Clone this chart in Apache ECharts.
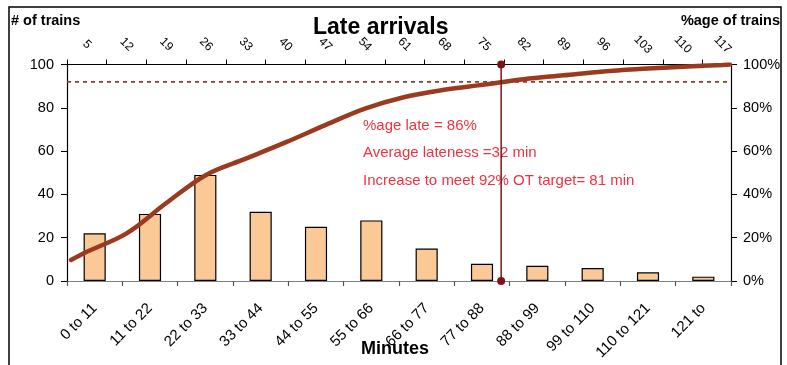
<!DOCTYPE html>
<html>
<head>
<meta charset="utf-8">
<script src="https://cdn.jsdelivr.net/npm/echarts@6/dist/echarts.min.js"></script>
<style>
html,body{margin:0;padding:0;background:#fff;}
#chart{width:787px;height:365px;}
</style>
</head>
<body>
<div id="chart"></div>
<script>
// ---- data ----
const categories = ['0 to 11','11 to 22','22 to 33','33 to 44','44 to 55','55 to 66','66 to 77','77 to 88','88 to 99','99 to 110','110 to 121','121 to'];
const trainCounts = [22, 31, 49, 32, 25, 28, 15, 8, 7, 6, 4, 2];
const topTickLabels = [5, 12, 19, 26, 33, 40, 47, 54, 61, 68, 75, 82, 89, 96, 103, 110, 117];
const topTickMarks = [1.5, 8.5, 15.5, 22.5, 29.5, 36.5, 43.5, 50.5, 57.5, 64.5, 71.5, 78.5, 85.5, 92.5, 99.5, 106.5, 113.5];
const cumMinutes = [2.2, 5, 12, 19, 26, 33, 40, 47, 54, 61, 68, 75, 82, 89, 96, 103, 110, 117, 118.3];
const cumPct = [9.7, 13.5, 22, 36, 49, 56.5, 64, 72, 79.6, 85, 88.3, 90.7, 93.2, 95, 96.8, 98, 99, 99.8, 100];
const targetPct = 92;
const markerMinute = 78;
const notes = ['%age late = 86%', 'Average lateness =32 min', 'Increase to meet 92% OT target= 81 min'];

const FONT = '"Liberation Sans", Arial, sans-serif';
const chart = echarts.init(document.getElementById('chart'), null, {renderer: 'canvas'});

const option = {
  backgroundColor: '#fff',
  animation: false,
  textStyle: {fontFamily: FONT},
  grid: {left: 67, right: 56, top: 64.5, bottom: 84, containLabel: false},
  xAxis: [
    {
      type: 'category', position: 'bottom', data: categories, boundaryGap: true,
      axisLine: {show: true, onZero: false, lineStyle: {color: '#808080', width: 1.2}},
      axisTick: {show: true, interval: 0, inside: false, length: 5, alignWithLabel: false, lineStyle: {color: '#555', width: 1.2}},
      axisLabel: {rotate: 45, color: '#000', fontSize: 15, fontFamily: FONT, margin: 25, interval: 0},
      splitLine: {show: false}
    },
    {
      type: 'value', position: 'top', min: 1.5, max: 118.5,
      axisLine: {show: true, onZero: false, lineStyle: {color: '#000', width: 1.2}},
      axisTick: {show: true, length: 5, customValues: topTickMarks, lineStyle: {color: '#000'}},
      axisLabel: {customValues: topTickLabels, rotate: 45, color: '#000', fontSize: 12, fontFamily: FONT, margin: 20, align: 'center'},
      splitLine: {show: false}
    }
  ],
  yAxis: [
    {
      type: 'value', position: 'left', min: 0, max: 100, interval: 20,
      axisLine: {show: true, onZero: false, lineStyle: {color: '#000', width: 1.2}},
      axisTick: {show: true, length: 6, lineStyle: {color: '#000'}},
      axisLabel: {color: '#000', fontSize: 14.5, fontFamily: FONT, margin: 13},
      splitLine: {show: false}
    },
    {
      type: 'value', position: 'right', min: 0, max: 100, interval: 20,
      axisLine: {show: true, onZero: false, lineStyle: {color: '#000', width: 1.2}},
      axisTick: {show: true, length: 6, lineStyle: {color: '#000'}},
      axisLabel: {color: '#000', fontSize: 14.5, fontFamily: FONT, margin: 12, formatter: '{value}%'},
      splitLine: {show: false}
    }
  ],
  series: [
    {
      type: 'bar', xAxisIndex: 0, yAxisIndex: 0, data: trainCounts, barWidth: '40%',
      itemStyle: {color: '#FAC996', borderColor: '#000', borderWidth: 1.2}, z: 2
    },
    {
      type: 'line', xAxisIndex: 1, yAxisIndex: 1,
      data: [[topTickMarks[0], targetPct], [118.5, targetPct]],
      symbol: 'none', lineStyle: {color: '#9B3A1F', width: 1.8, type: [4, 4]}, z: 3
    },
    {
      type: 'line', xAxisIndex: 1, yAxisIndex: 1,
      data: cumMinutes.map((m, i) => [m, cumPct[i]]),
      smooth: 0.35, symbol: 'none', lineStyle: {color: '#9B3A1F', width: 4.5, cap: 'round'}, z: 4
    },
    {
      type: 'line', xAxisIndex: 1, yAxisIndex: 1,
      data: [[markerMinute, 0], [markerMinute, 100]],
      symbol: 'circle', symbolSize: 8, clip: false,
      itemStyle: {color: '#7B1416'}, lineStyle: {color: '#7B1416', width: 1.5}, z: 5
    }
  ],
  graphic: [
    {type: 'rect', shape: {x: 9, y: 7, width: 772, height: 420}, style: {fill: 'none', stroke: '#000', lineWidth: 1.5}, silent: true},
    {type: 'text', left: 313, top: 16, style: {text: 'Late arrivals', font: 'bold 23px ' + FONT, fill: '#000'}},
    {type: 'text', left: 11, top: 13, style: {text: '# of trains', font: 'bold 14.5px ' + FONT, fill: '#000'}},
    {type: 'text', right: 7, top: 13, style: {text: '%age of trains', font: 'bold 14.5px ' + FONT, fill: '#000'}},
    {type: 'text', left: 361, top: 340, style: {text: 'Minutes', font: 'bold 18px ' + FONT, fill: '#000'}},
    {type: 'text', left: 363, top: 118, style: {text: notes[0], font: '15px ' + FONT, fill: '#EE3340'}},
    {type: 'text', left: 363, top: 145, style: {text: notes[1], font: '15px ' + FONT, fill: '#EE3340'}},
    {type: 'text', left: 363, top: 173, style: {text: notes[2], font: '15px ' + FONT, fill: '#EE3340'}}
  ]
};
chart.setOption(option);
</script>
</body>
</html>
